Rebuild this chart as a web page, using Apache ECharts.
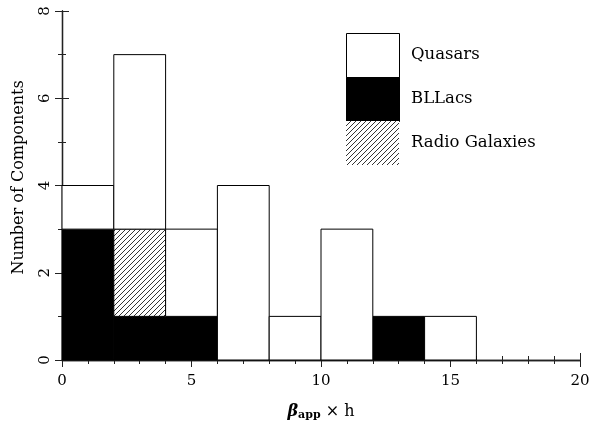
<!DOCTYPE html>
<html><head><meta charset="utf-8">
<script src="https://cdn.jsdelivr.net/npm/echarts@6/dist/echarts.min.js"></script>
<style>html,body{margin:0;padding:0;background:#fff}#c{width:591px;height:427px}</style>
</head><body><div id="c"></div>
<script>
const binStarts = [0, 2, 4, 6, 8, 10, 12, 14, 16, 18];
const binWidth = 2;
const bllacs = [3, 1, 1, 0, 0, 0, 1, 0, 0, 0];
const radioGalaxies = [0, 2, 0, 0, 0, 0, 0, 0, 0, 0];
const quasars = [1, 4, 2, 4, 1, 3, 0, 1, 0, 0];
const xTicks = [0, 5, 10, 15, 20];
const yTicks = [0, 2, 4, 6, 8];
const legendNames = ['Quasars', 'BLLacs', 'Radio Galaxies'];

const FONT = 'DejaVu Serif';
const hatch = document.createElement('canvas');
hatch.width = 5; hatch.height = 5;
const hc = hatch.getContext('2d');
hc.fillStyle = '#fff'; hc.fillRect(0, 0, 5, 5);
hc.strokeStyle = '#000'; hc.lineWidth = 0.8;
hc.beginPath();
hc.moveTo(-1, 6); hc.lineTo(6, -1);
hc.moveTo(-1, 1); hc.lineTo(1, -1);
hc.moveTo(4, 6); hc.lineTo(6, 4);
hc.stroke();
const hatchFill = { image: hatch, repeat: 'repeat' };

function stackedData(vals, bases) {
  return binStarts.map((s, i) => [s, s + binWidth, bases[i], bases[i] + vals[i]]);
}
const baseRG = bllacs.slice();
const baseQ = bllacs.map((v, i) => v + radioGalaxies[i]);

function makeSeries(name, vals, bases, fill) {
  return {
    type: 'custom', name,
    data: stackedData(vals, bases).filter(d => d[3] > d[2]),
    renderItem: function (params, api) {
      const p0 = api.coord([api.value(0), api.value(2)]);
      const p1 = api.coord([api.value(1), api.value(3)]);
      return {
        type: 'rect',
        shape: { x: p0[0], y: p1[1], width: p1[0] - p0[0], height: p0[1] - p1[1] },
        style: { fill: fill, stroke: '#000', lineWidth: 1 }
      };
    },
    z: 2
  };
}

const chart = echarts.init(document.getElementById('c'), null, { renderer: 'canvas' });
const axisLine = { show: true, lineStyle: { color: '#222', width: 1.3 } };
const xBase = {
  type: 'value', min: 0, max: 20, interval: 5,
  axisLine, axisTick: { show: true, inside: true, length: 7, lineStyle: { color: '#222', width: 1 } },
  minorTick: { show: true, splitNumber: 5, length: 4, lineStyle: { color: '#222', width: 1 } },
  splitLine: { show: false }
};
const yBase = {
  type: 'value', min: 0, max: 8, interval: 2,
  axisLine, axisTick: { show: true, inside: true, length: 7, lineStyle: { color: '#222', width: 1 } },
  minorTick: { show: true, splitNumber: 2, length: 4, lineStyle: { color: '#222', width: 1 } },
  splitLine: { show: false }
};

const lx = 346, lw = 53, lh = 44, ly0 = 33;
const legendFills = ['#fff', '#000', hatchFill];
const graphics = [];
legendNames.forEach((n, i) => {
  graphics.push({
    type: 'rect', left: lx, top: ly0 + i * lh, z: 10,
    shape: { width: lw, height: lh },
    style: { fill: legendFills[i], stroke: i === 2 ? null : '#000', lineWidth: 1 }
  });
  graphics.push({
    type: 'text', left: 411, top: ly0 + i * lh + lh / 2 - 9, z: 10,
    style: { text: n, font: '16.5px "' + FONT + '"', fill: '#000' }
  });
});

chart.setOption({
  animation: false,
  grid: { left: 62, right: 11, top: 11, bottom: 67, containLabel: false, outerBoundsMode: 'none' },
  xAxis: [
    Object.assign({}, xBase, {
      position: 'bottom',
      axisLabel: { show: true, margin: 14, fontFamily: FONT, fontSize: 15, color: '#000',
        formatter: v => xTicks.includes(v) ? String(v) : '' },
      name: '{b|β}{s|app}{n| × h}', nameLocation: 'middle', nameGap: 42,
      nameTextStyle: { rich: {
        b: { fontFamily: FONT, fontStyle: 'italic', fontWeight: 'bold', fontSize: 16, color: '#000' },
        s: { fontFamily: FONT, fontWeight: 'bold', fontSize: 11, color: '#000', verticalAlign: 'bottom', padding: [8, 0, 0, 0] },
        n: { fontFamily: FONT, fontSize: 16, color: '#000' }
      } }
    }),
    Object.assign({}, xBase, { position: 'top', axisLabel: { show: false } })
  ],
  yAxis: [
    Object.assign({}, yBase, {
      position: 'left',
      axisLabel: { show: true, rotate: 90, margin: 9, fontFamily: FONT, fontSize: 15, color: '#000',
        formatter: v => yTicks.includes(v) ? String(v) : '' },
      name: 'Number of Components', nameLocation: 'middle', nameGap: 35, nameRotate: 90,
      nameTextStyle: { fontFamily: FONT, fontSize: 16, color: '#000', padding: [0, 0, 0, 16] }
    }),
    Object.assign({}, yBase, { position: 'right', axisLabel: { show: false } })
  ],
  graphic: graphics,
  series: [
    makeSeries('BLLacs', bllacs, binStarts.map(() => 0), '#000'),
    makeSeries('Radio Galaxies', radioGalaxies, baseRG, hatchFill),
    makeSeries('Quasars', quasars, baseQ, '#fff')
  ]
});
</script></body></html>
